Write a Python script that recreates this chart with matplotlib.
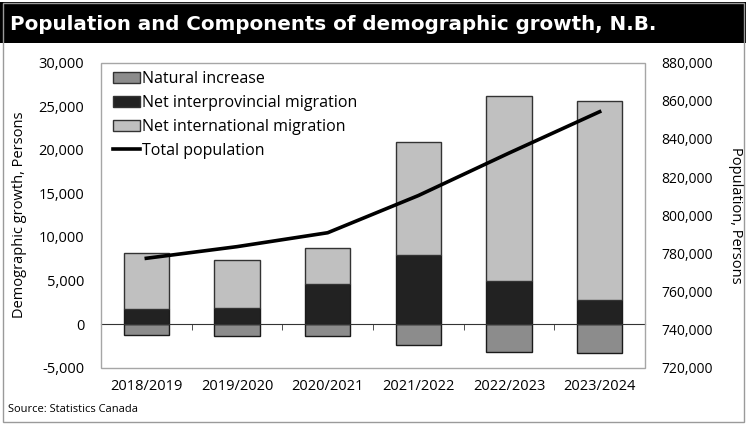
import matplotlib
matplotlib.use("Agg")
import matplotlib.pyplot as plt
from matplotlib.patches import Rectangle, Patch
from matplotlib.lines import Line2D
from matplotlib.ticker import FuncFormatter, FixedLocator
import numpy as np

categories = ["2018/2019", "2019/2020", "2020/2021", "2021/2022", "2022/2023", "2023/2024"]
natural_increase = [-1270, -1370, -1370, -2420, -3230, -3350]
net_interprovincial = [1690, 1900, 4600, 7880, 5000, 2740]
net_international = [6510, 5480, 4180, 12970, 21180, 22830]
total_population = [777400, 783500, 790800, 810300, 832600, 854300]

W, H = 746, 424
plt.rcParams['font.family'] = ['Open Sans', 'DejaVu Sans']
fig = plt.figure(figsize=(W / 100, H / 100), dpi=100)

# title bar
fig.patches.append(Rectangle((0, (H - 43) / H), 1, 41 / H, transform=fig.transFigure,
                             facecolor='black', edgecolor='none', zorder=0))
fig.patches.append(Rectangle((2.5 / W, 2.5 / H), (W - 5) / W, (H - 5) / H, transform=fig.transFigure,
                             facecolor='none', edgecolor='#9a9a9a', lw=1, zorder=0))
fig.text(10 / W, (H - 24) / H, "Population and Components of demographic growth, N.B.",
         color='white', fontsize=14.3, fontweight='bold', family='DejaVu Sans', va='center', ha='left')
fig.text(8 / W, (H - 410) / H, "Source: Statistics Canada", fontsize=8,
         va='center', ha='left')

L, R, T, B = 101, 645, 62.7, 367.7
ax = fig.add_axes([L / W, (H - B) / H, (R - L) / W, (B - T) / H])
x = np.arange(len(categories))
fs = 10.5

c_nat, c_inter, c_intl = '#8c8c8c', '#222222', '#c0c0c0'
ax.bar(x, natural_increase, width=0.5, color=c_nat, edgecolor='#1a1a1a', lw=1, zorder=2)
ax.bar(x, net_interprovincial, width=0.5, color=c_inter, edgecolor='#1a1a1a', lw=1, zorder=2)
ax.bar(x, net_international, width=0.5, bottom=net_interprovincial, color=c_intl,
       edgecolor='#333333', lw=1, zorder=2)

ax.set_xlim(-0.5, len(categories) - 0.5)
ax.set_ylim(-5000, 30000)
ax.set_yticks(np.arange(-5000, 30001, 5000))
ax.yaxis.set_major_formatter(FuncFormatter(lambda v, p: f"{int(v):,}"))
ax.tick_params(axis='y', length=0, pad=12, labelsize=fs)
for s in ['top', 'left', 'right']:
    ax.spines[s].set_visible(False)
ax.spines['bottom'].set_position(('data', 0))
ax.spines['bottom'].set_color('#333333')
ax.spines['bottom'].set_zorder(3)
ax.set_xticks([])
ax.xaxis.set_minor_locator(FixedLocator(np.arange(-0.5, len(categories), 1.0)))
ax.tick_params(axis='x', which='minor', length=4, direction='out', color='#333333')
ax.add_patch(Rectangle((0, 0), 1, 1, transform=ax.transAxes, facecolor='none',
                       edgecolor='#a6a6a6', lw=1, zorder=5, clip_on=False))
ax.set_ylabel("Demographic growth, Persons", fontsize=fs, labelpad=8)

sec = ax.secondary_xaxis(0)
sec.set_xticks(x)
sec.set_xticklabels(categories, fontsize=fs)
sec.tick_params(length=0, pad=8)
sec.spines['bottom'].set_visible(False)

ax2 = ax.twinx()
ax2.plot(x, total_population, color='black', lw=2.6, zorder=4)
ax2.set_ylim(720000, 880000)
ax2.set_yticks(np.arange(720000, 880001, 20000))
ax2.yaxis.set_major_formatter(FuncFormatter(lambda v, p: f"{int(v):,}"))
ax2.tick_params(axis='y', length=0, pad=12, labelsize=10)
for s in ax2.spines.values():
    s.set_visible(False)
ax2.set_ylabel("Population, Persons", fontsize=fs, rotation=-90, labelpad=16, va='center')

handles = [Patch(facecolor=c_nat, edgecolor='#333333', label='Natural increase'),
           Patch(facecolor=c_inter, edgecolor='#333333', label='Net interprovincial migration'),
           Patch(facecolor=c_intl, edgecolor='#333333', label='Net international migration'),
           Line2D([], [], color='black', lw=2.6, label='Total population')]
ax.legend(handles=handles, loc='upper left', bbox_to_anchor=(113 / W, (H - 71) / H),
          bbox_transform=fig.transFigure, frameon=False, fontsize=11.5,
          handlelength=1.7, handleheight=0.7, handletextpad=0.1, labelspacing=0.5,
          borderpad=0, borderaxespad=0)

fig.savefig("out.png", dpi=100)
